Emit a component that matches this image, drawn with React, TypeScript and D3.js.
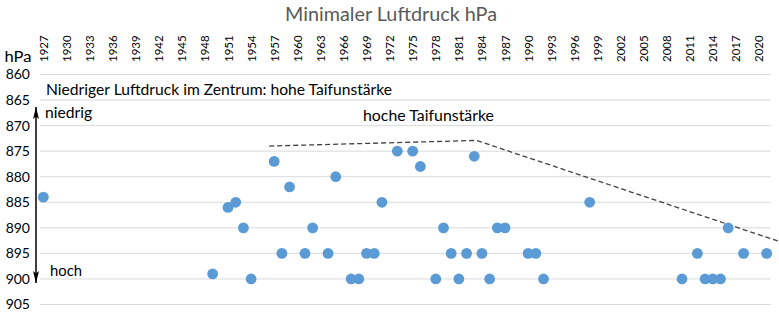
import React from "react";
import * as d3 from "d3";

const years = [1927, 1949, 1951, 1952, 1953, 1954, 1957, 1958, 1959, 1961, 1962, 1964, 1965, 1967, 1968, 1969, 1970, 1971, 1973, 1975, 1976, 1978, 1979, 1980, 1981, 1982, 1983, 1984, 1985, 1986, 1987, 1990, 1991, 1992, 1998, 2010, 2012, 2013, 2014, 2015, 2016, 2018, 2021];
const pressures = [884, 899, 886, 885, 890, 900, 877, 895, 882, 895, 890, 895, 880, 900, 900, 895, 895, 885, 875, 875, 878, 900, 890, 895, 900, 895, 876, 895, 900, 890, 890, 895, 895, 900, 885, 900, 895, 900, 900, 900, 890, 895, 895];

const yearTicks = d3.range(1927, 2021, 3);
const pressureTicks = d3.range(860, 906, 5);

const trendYears = [1956.35, 1983.3, 2022.7];
const trendPressures = [874.0, 872.9, 892.7];

const title = "Minimaler Luftdruck hPa";
const unitLabel = "hPa";
const noteText = "Niedriger Luftdruck im Zentrum: hohe Taifunstärke";
const lowText = "niedrig";
const highText = "hoch";
const strongText = "hoche Taifunstärke";

const W = 779;
const H = 322;
const FONT = "Lato, 'Open Sans', sans-serif";

export default function App() {
  const x = d3.scaleLinear().domain([1926.5, 2021.5]).range([39.5, 770.5]);
  const y = d3.scaleLinear().domain([860, 905]).range([74.5, 304.5]);
  const line = d3
    .line<number>()
    .x((d, i) => x(trendYears[i]))
    .y((d) => y(d));

  return (
    <svg
      width={W}
      height={H}
      style={{ position: "absolute", left: 0, top: 0, background: "#fff" }}
      fontFamily={FONT}
    >
      <defs>
        <marker id="ah" viewBox="0 0 10 5" refX="10" refY="2.5" markerWidth="8" markerHeight="4" preserveAspectRatio="none" orient="auto-start-reverse" markerUnits="strokeWidth">
          <path d="M0,0 L10,2.5 L0,5 L2,2.5 z" fill="#000" />
        </marker>
      </defs>
      <rect x={0} y={0} width={W} height={H} fill="#fff" />
      <text x={285} y={21} fontSize={19.5} fill="#595959" textLength={212} lengthAdjust="spacingAndGlyphs">
        {title}
      </text>
      {pressureTicks.map((p) => (
        <g key={p}>
          <line x1={40} x2={770.7} y1={y(p)} y2={y(p)} stroke="#d9d9d9" strokeWidth={1} />
          <text x={30} y={y(p)} dy="0.35em" textAnchor="end" fontSize={14} fill="#000">
            {p}
          </text>
        </g>
      ))}
      <text x={4.5} y={62} fontSize={15.5} fill="#000" textLength={27} lengthAdjust="spacingAndGlyphs">
        {unitLabel}
      </text>
      {yearTicks.map((yr) => (
        <text
          key={yr}
          transform={`translate(${x(yr)},62) rotate(-90)`}
          dominantBaseline="central"
          fontSize={11.5}
          fill="#000"
        >
          {yr}
        </text>
      ))}
      <text x={46} y={95} fontSize={15} fill="#000" textLength={346} lengthAdjust="spacingAndGlyphs">
        {noteText}
      </text>
      <text x={45} y={118} fontSize={15.5} fill="#000" textLength={47} lengthAdjust="spacingAndGlyphs">
        {lowText}
      </text>
      <text x={50} y={276} fontSize={15.5} fill="#000" textLength={32} lengthAdjust="spacingAndGlyphs">
        {highText}
      </text>
      <text x={363} y={121} fontSize={15.5} fill="#000" textLength={131} lengthAdjust="spacingAndGlyphs">
        {strongText}
      </text>
      <line x1={36} x2={36} y1={107} y2={283} stroke="#000" strokeWidth={1.5} markerStart="url(#ah)" markerEnd="url(#ah)" />
      <path d={line(trendPressures) || ""} fill="none" stroke="#404040" strokeWidth={1.3} strokeDasharray="5,3" />
      {years.map((yr, i) => (
        <circle key={i} cx={x(yr)} cy={y(pressures[i])} r={5.4} fill="#5B9BD5" />
      ))}
    </svg>
  );
}
